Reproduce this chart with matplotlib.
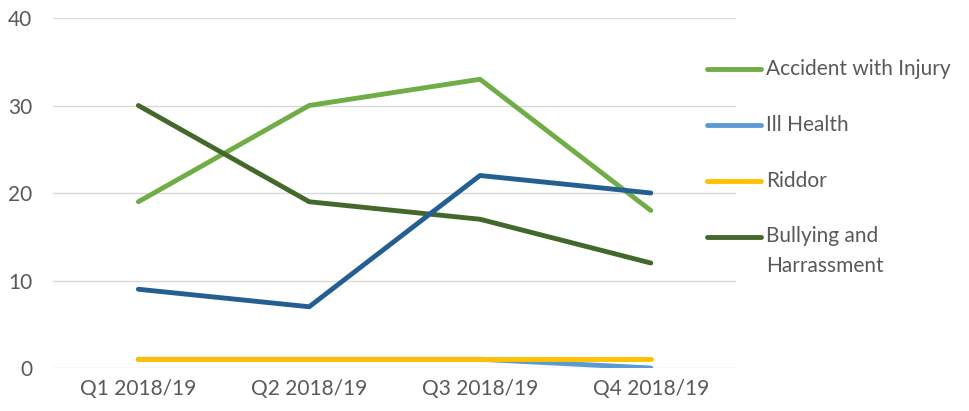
import matplotlib.pyplot as plt
from matplotlib.lines import Line2D

quarters = ['Q1 2018/19', 'Q2 2018/19', 'Q3 2018/19', 'Q4 2018/19']
accident = [19, 30, 33, 18]
ill_health = [1, 1, 1, 0]
riddor = [1, 1, 1, 1]
bullying = [30, 19, 17, 12]
other = [9, 7, 22, 20]

plt.rcParams['font.family'] = ['Lato', 'DejaVu Sans']
grey = '#595959'
fs = 15

fig = plt.figure(figsize=(9.7, 4.11), dpi=100)
ax = fig.add_axes([0.0546, 0.1046, 0.7044, 0.8516])

x = range(len(quarters))
lw = 3.5
ax.plot(x, accident, color='#70AD47', lw=lw, solid_capstyle='round', label='Accident with Injury')
ax.plot(x, ill_health, color='#5B9BD5', lw=lw, solid_capstyle='round', label='Ill Health')
ax.plot(x, riddor, color='#FFC000', lw=lw, solid_capstyle='round', label='Riddor')
ax.plot(x, bullying, color='#43682B', lw=lw, solid_capstyle='round', label='Bullying and\nHarrassment')
ax.plot(x, other, color='#255E91', lw=lw, solid_capstyle='round', label='_nolegend_')

ax.set_xlim(-0.5, 3.5)
ax.set_ylim(0, 40)
ax.set_yticks([0, 10, 20, 30, 40])
ax.set_xticks(list(x))
ax.set_xticklabels(quarters)
ax.yaxis.grid(True, color='#D9D9D9', lw=1)
ax.set_axisbelow(True)
for s in ax.spines.values():
    s.set_visible(False)
ax.tick_params(length=0, labelsize=fs, colors=grey, pad=8)
ax.tick_params(axis='y', pad=15)

# legend drawn by hand so the wrapped label keeps its key on the first line
ys = [0.832, 0.696, 0.560, 0.424]
for line, y in zip([l for l in ax.get_lines() if not l.get_label().startswith('_')], ys):
    fig.add_artist(Line2D([0.729, 0.785], [y, y], transform=fig.transFigure,
                          color=line.get_color(), lw=lw, solid_capstyle='round'))
    fig.text(0.790, y + 0.025, line.get_label(), va='top', ha='left', fontsize=fs,
             color=grey, linespacing=1.6, transform=fig.transFigure)

fig.savefig('out.png', dpi=100)
